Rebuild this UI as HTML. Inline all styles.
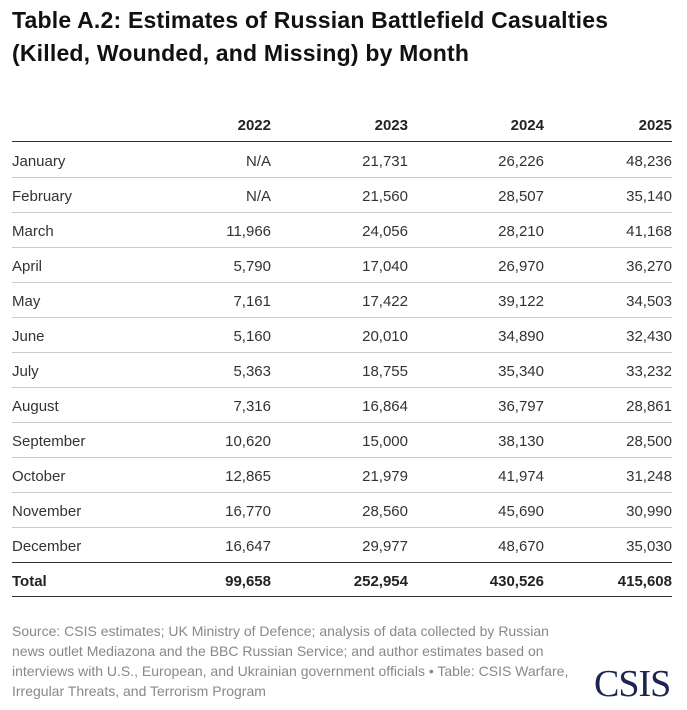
<!DOCTYPE html>
<html><head><meta charset="utf-8"><style>
body{margin:0;width:687px;height:710px;background:#fff;font-family:"Liberation Sans",sans-serif;position:relative;overflow:hidden;color:#222}
.t{position:absolute;left:12px;font-weight:bold;font-size:23px;color:#111;white-space:nowrap;letter-spacing:0.2px}
.r{position:absolute;left:12px;width:660px;height:35px;font-size:15px;color:#333}
.r span{position:absolute;top:2px;line-height:35px}
.c0{left:0}.c1{right:401px}.c2{right:264px}.c3{right:128px}.c4{right:0}
.ln{position:absolute;left:12px;width:660px;height:1px;background:#ccc}
.dk{background:#333}
.b{font-weight:bold;color:#222}
.src{position:absolute;left:12px;top:621px;width:600px;font-size:14px;line-height:20px;color:#888;white-space:nowrap}
.logo{position:absolute;left:594px;top:662px;font-family:"Liberation Serif",serif;font-size:38px;color:#1b2550;letter-spacing:-1px}
</style></head><body>
<div class="t" style="top:7px">Table A.2: Estimates of Russian Battlefield Casualties</div>
<div class="t" style="top:40px">(Killed, Wounded, and Missing) by Month</div>
<div class="r b" style="top:106px"><span class="c1">2022</span><span class="c2">2023</span><span class="c3">2024</span><span class="c4">2025</span></div>
<div class="ln dk" style="top:141px"></div>
<div class="r" style="top:142px"><span class="c0">January</span><span class="c1">N/A</span><span class="c2">21,731</span><span class="c3">26,226</span><span class="c4">48,236</span></div>
<div class="ln" style="top:177px"></div>
<div class="r" style="top:177px"><span class="c0">February</span><span class="c1">N/A</span><span class="c2">21,560</span><span class="c3">28,507</span><span class="c4">35,140</span></div>
<div class="ln" style="top:212px"></div>
<div class="r" style="top:212px"><span class="c0">March</span><span class="c1">11,966</span><span class="c2">24,056</span><span class="c3">28,210</span><span class="c4">41,168</span></div>
<div class="ln" style="top:247px"></div>
<div class="r" style="top:247px"><span class="c0">April</span><span class="c1">5,790</span><span class="c2">17,040</span><span class="c3">26,970</span><span class="c4">36,270</span></div>
<div class="ln" style="top:282px"></div>
<div class="r" style="top:282px"><span class="c0">May</span><span class="c1">7,161</span><span class="c2">17,422</span><span class="c3">39,122</span><span class="c4">34,503</span></div>
<div class="ln" style="top:317px"></div>
<div class="r" style="top:317px"><span class="c0">June</span><span class="c1">5,160</span><span class="c2">20,010</span><span class="c3">34,890</span><span class="c4">32,430</span></div>
<div class="ln" style="top:352px"></div>
<div class="r" style="top:352px"><span class="c0">July</span><span class="c1">5,363</span><span class="c2">18,755</span><span class="c3">35,340</span><span class="c4">33,232</span></div>
<div class="ln" style="top:387px"></div>
<div class="r" style="top:387px"><span class="c0">August</span><span class="c1">7,316</span><span class="c2">16,864</span><span class="c3">36,797</span><span class="c4">28,861</span></div>
<div class="ln" style="top:422px"></div>
<div class="r" style="top:422px"><span class="c0">September</span><span class="c1">10,620</span><span class="c2">15,000</span><span class="c3">38,130</span><span class="c4">28,500</span></div>
<div class="ln" style="top:457px"></div>
<div class="r" style="top:457px"><span class="c0">October</span><span class="c1">12,865</span><span class="c2">21,979</span><span class="c3">41,974</span><span class="c4">31,248</span></div>
<div class="ln" style="top:492px"></div>
<div class="r" style="top:492px"><span class="c0">November</span><span class="c1">16,770</span><span class="c2">28,560</span><span class="c3">45,690</span><span class="c4">30,990</span></div>
<div class="ln" style="top:527px"></div>
<div class="r" style="top:527px"><span class="c0">December</span><span class="c1">16,647</span><span class="c2">29,977</span><span class="c3">48,670</span><span class="c4">35,030</span></div>
<div class="ln dk" style="top:562px"></div>
<div class="r b" style="top:562px"><span class="c0">Total</span><span class="c1">99,658</span><span class="c2">252,954</span><span class="c3">430,526</span><span class="c4">415,608</span></div>
<div class="ln dk" style="top:596px"></div>
<div class="src">Source: CSIS estimates; UK Ministry of Defence; analysis of data collected by Russian<br>news outlet Mediazona and the BBC Russian Service; and author estimates based on<br>interviews with U.S., European, and Ukrainian government officials • Table: CSIS Warfare,<br>Irregular Threats, and Terrorism Program</div>
<div class="logo">CSIS</div>
</body></html>
